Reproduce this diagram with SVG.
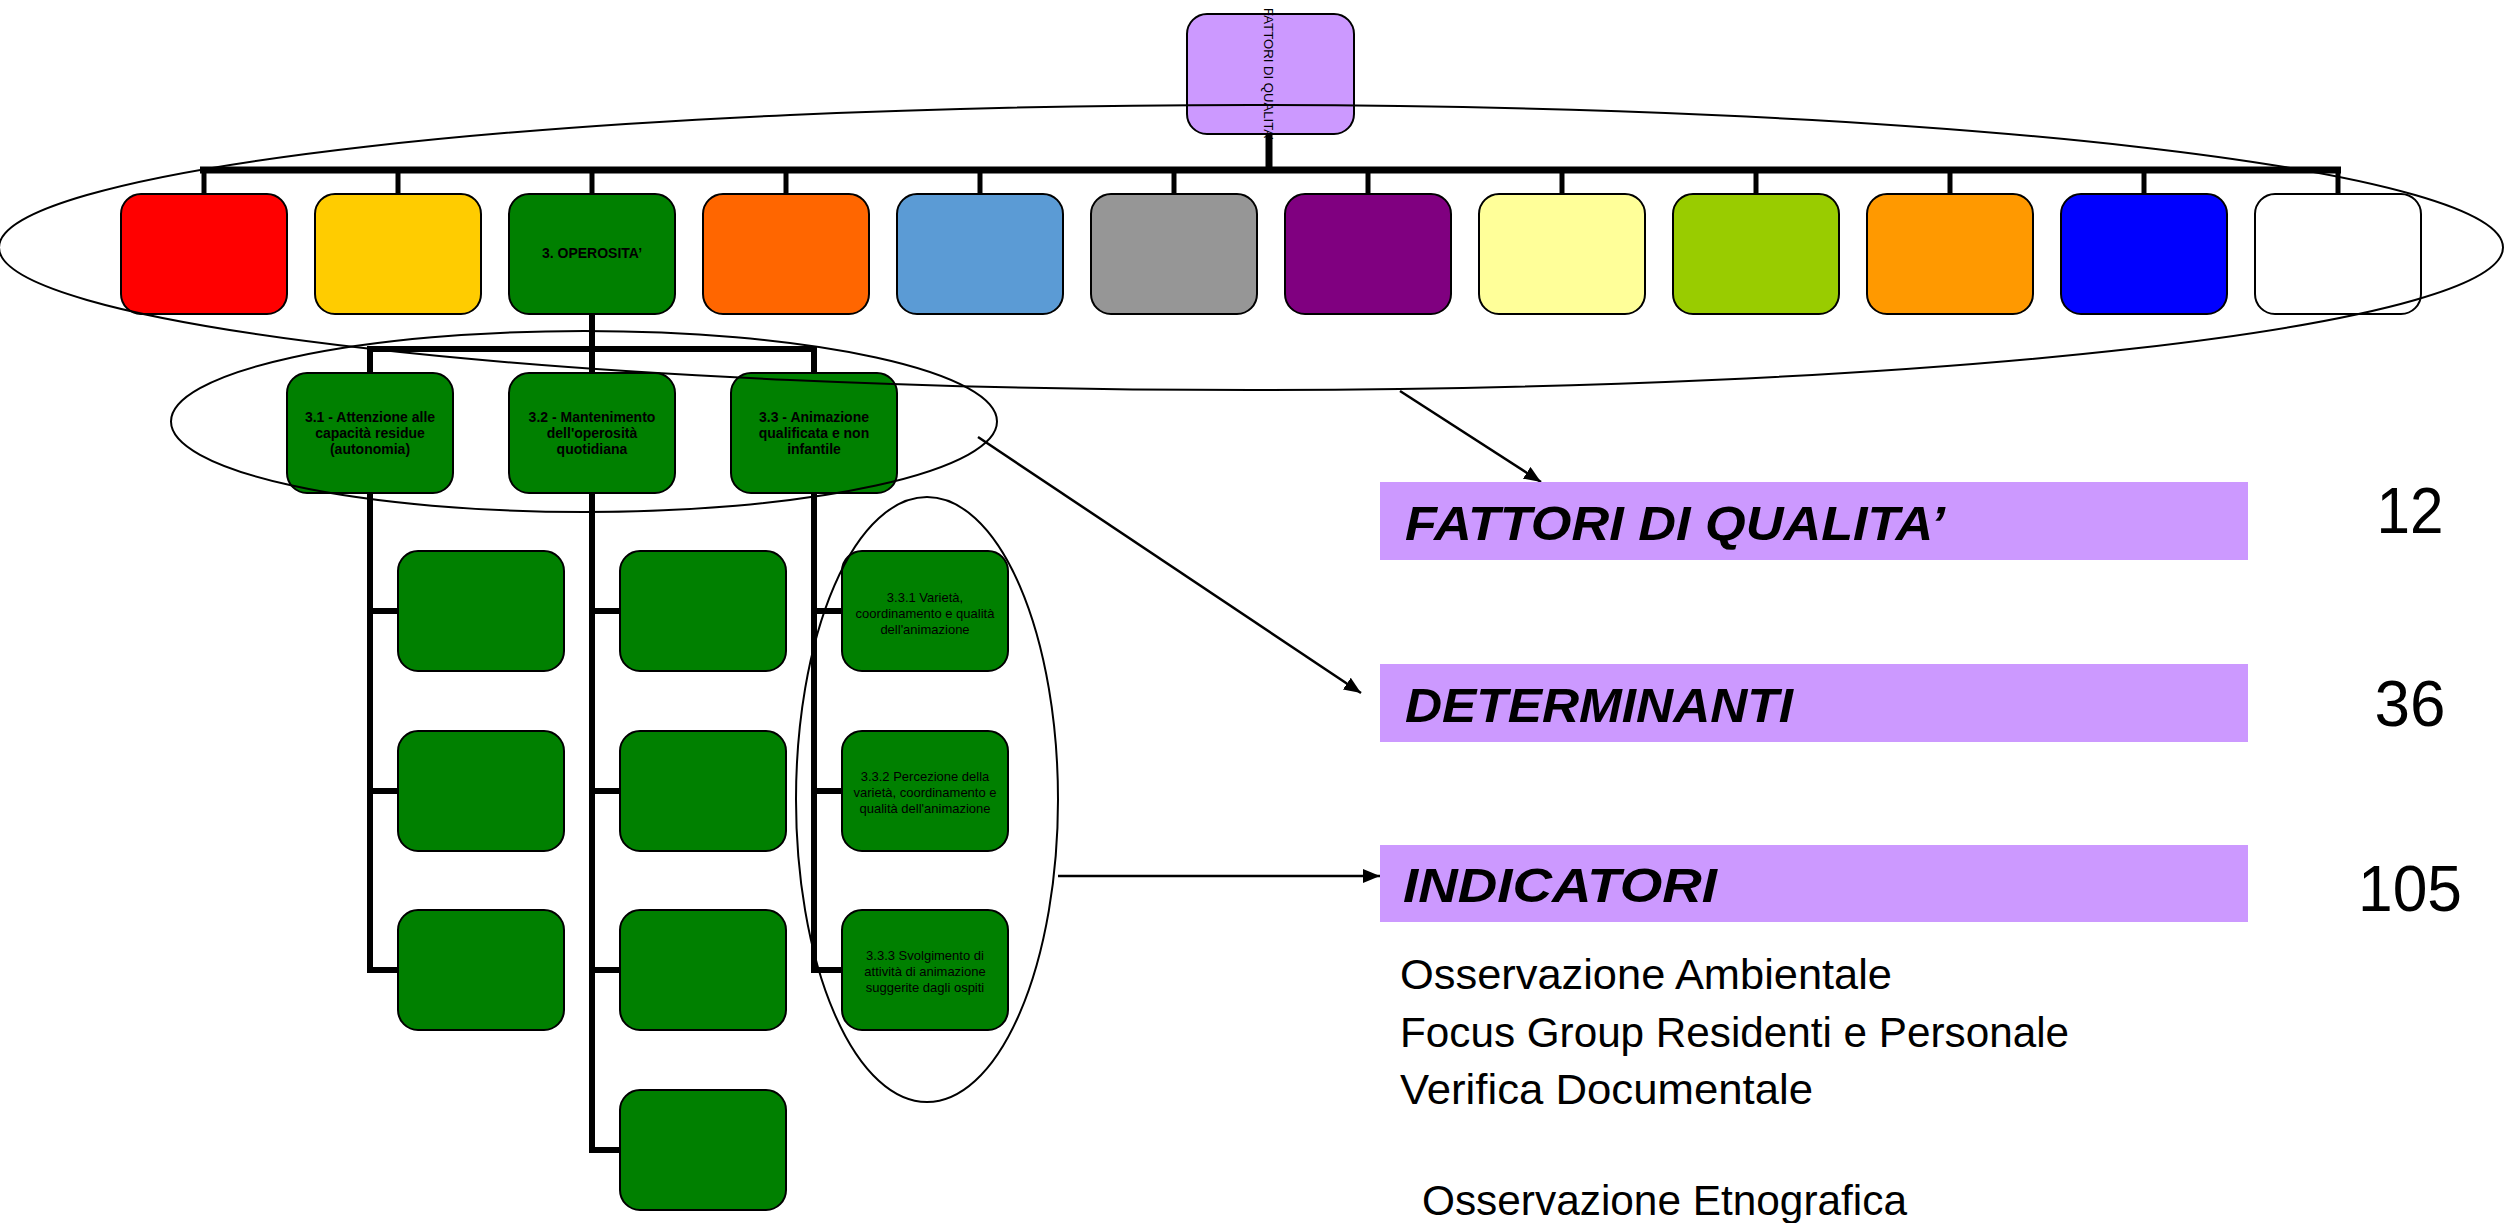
<svg xmlns="http://www.w3.org/2000/svg" width="2506" height="1223" viewBox="0 0 2506 1223">
  <defs>
    <style>
      .box { stroke: #000; stroke-width: 2; }
      .tree { fill: none; stroke: #000; stroke-linejoin: miter; stroke-linecap: butt; }
      .ring { fill: none; stroke: #000; stroke-width: 2; }
      .arrow { fill: none; stroke: #000; stroke-width: 2.5; marker-end: url(#head); }
      .lbl-b { font-family: "Liberation Sans", Arial, sans-serif; font-weight: bold; font-size: 14px; text-anchor: middle; fill: #000; }
      .lbl-r { font-family: "Liberation Sans", Arial, sans-serif; font-size: 13px; text-anchor: middle; fill: #000; }
      .bar { fill: #CC99FF; }
      .bar-t { font-family: "Liberation Sans", Arial, sans-serif; font-weight: bold; font-style: italic; font-size: 48px; fill: #000; }
      .num { font-family: "Liberation Sans", Arial, sans-serif; font-size: 64px; text-anchor: middle; fill: #000; }
      .note { font-family: "Liberation Sans", Arial, sans-serif; font-size: 42px; fill: #000; }
    </style>
    <marker id="head" markerUnits="userSpaceOnUse" markerWidth="18" markerHeight="14" refX="17" refY="7" orient="auto">
      <path d="M0,0 L17,7 L0,14 Z" fill="#000"/>
    </marker>
  </defs>

  <!-- tree connectors -->
  <g id="connectors">
    <!-- root to top bus -->
    <line class="tree" x1="1269" y1="134" x2="1269" y2="170" stroke-width="7"/>
    <line class="tree" x1="200" y1="170" x2="2341" y2="170" stroke-width="7"/>
    <g stroke-width="5" class="tree">
      <line x1="204" y1="170" x2="204" y2="194"/>
      <line x1="398" y1="170" x2="398" y2="194"/>
      <line x1="592" y1="170" x2="592" y2="194"/>
      <line x1="786" y1="170" x2="786" y2="194"/>
      <line x1="980" y1="170" x2="980" y2="194"/>
      <line x1="1174" y1="170" x2="1174" y2="194"/>
      <line x1="1368" y1="170" x2="1368" y2="194"/>
      <line x1="1562" y1="170" x2="1562" y2="194"/>
      <line x1="1756" y1="170" x2="1756" y2="194"/>
      <line x1="1950" y1="170" x2="1950" y2="194"/>
      <line x1="2144" y1="170" x2="2144" y2="194"/>
      <line x1="2338" y1="170" x2="2338" y2="194"/>
    </g>
    <!-- 3. OPEROSITA' to its determinants -->
    <line class="tree" x1="592" y1="313" x2="592" y2="349" stroke-width="6"/>
    <line class="tree" x1="367" y1="349" x2="817" y2="349" stroke-width="6"/>
    <g stroke-width="6" class="tree">
      <line x1="370" y1="349" x2="370" y2="373"/>
      <line x1="592" y1="349" x2="592" y2="373"/>
      <line x1="814" y1="349" x2="814" y2="373"/>
    </g>
    <!-- determinants to indicators -->
    <g stroke-width="6" class="tree">
      <path d="M370 493 V970 H398"/>
      <path d="M370 611 H398 M370 791 H398"/>
      <path d="M592 493 V1150 H620"/>
      <path d="M592 611 H620 M592 791 H620 M592 970 H620"/>
      <path d="M814 493 V970 H842"/>
      <path d="M814 611 H842 M814 791 H842"/>
    </g>
  </g>

  <!-- root -->
  <g id="root">
    <rect class="box" x="1187" y="14" width="167" height="120" rx="20" fill="#CC99FF"/>
    <text transform="translate(1264,8) rotate(90)" font-family="Liberation Sans, Arial, sans-serif" font-size="13" fill="#000" textLength="132" lengthAdjust="spacingAndGlyphs">FATTORI DI QUALITA’</text>
  </g>

  <!-- quality factors -->
  <g id="factor-1"><rect class="box" x="121" y="194" width="166" height="120" rx="20" fill="#FF0000"/></g>
  <g id="factor-2"><rect class="box" x="315" y="194" width="166" height="120" rx="20" fill="#FFCC00"/></g>
  <g id="factor-3">
    <rect class="box" x="509" y="194" width="166" height="120" rx="20" fill="#008000"/>
    <text class="lbl-b" x="592" y="258" font-size="13.5">3. OPEROSITA’</text>
  </g>
  <g id="factor-4"><rect class="box" x="703" y="194" width="166" height="120" rx="20" fill="#FF6600"/></g>
  <g id="factor-5"><rect class="box" x="897" y="194" width="166" height="120" rx="20" fill="#5B9BD5"/></g>
  <g id="factor-6"><rect class="box" x="1091" y="194" width="166" height="120" rx="20" fill="#969696"/></g>
  <g id="factor-7"><rect class="box" x="1285" y="194" width="166" height="120" rx="20" fill="#800080"/></g>
  <g id="factor-8"><rect class="box" x="1479" y="194" width="166" height="120" rx="20" fill="#FFFF99"/></g>
  <g id="factor-9"><rect class="box" x="1673" y="194" width="166" height="120" rx="20" fill="#99CC00"/></g>
  <g id="factor-10"><rect class="box" x="1867" y="194" width="166" height="120" rx="20" fill="#FF9900"/></g>
  <g id="factor-11"><rect class="box" x="2061" y="194" width="166" height="120" rx="20" fill="#0000FF"/></g>
  <g id="factor-12"><rect class="box" x="2255" y="194" width="166" height="120" rx="20" fill="#FFFFFF"/></g>

  <!-- determinants -->
  <g id="det-3-1">
    <rect class="box" x="287" y="373" width="166" height="120" rx="20" fill="#008000"/>
    <text class="lbl-b" x="370" y="422">3.1 - Attenzione alle</text>
    <text class="lbl-b" x="370" y="438">capacità residue</text>
    <text class="lbl-b" x="370" y="454">(autonomia)</text>
  </g>
  <g id="det-3-2">
    <rect class="box" x="509" y="373" width="166" height="120" rx="20" fill="#008000"/>
    <text class="lbl-b" x="592" y="422">3.2 - Mantenimento</text>
    <text class="lbl-b" x="592" y="438">dell'operosità</text>
    <text class="lbl-b" x="592" y="454">quotidiana</text>
  </g>
  <g id="det-3-3">
    <rect class="box" x="731" y="373" width="166" height="120" rx="20" fill="#008000"/>
    <text class="lbl-b" x="814" y="422">3.3 - Animazione</text>
    <text class="lbl-b" x="814" y="438">qualificata e non</text>
    <text class="lbl-b" x="814" y="454">infantile</text>
  </g>

  <!-- indicators -->
  <g id="ind-3-1-a"><rect class="box" x="398" y="551" width="166" height="120" rx="20" fill="#008000"/></g>
  <g id="ind-3-1-b"><rect class="box" x="398" y="731" width="166" height="120" rx="20" fill="#008000"/></g>
  <g id="ind-3-1-c"><rect class="box" x="398" y="910" width="166" height="120" rx="20" fill="#008000"/></g>
  <g id="ind-3-2-a"><rect class="box" x="620" y="551" width="166" height="120" rx="20" fill="#008000"/></g>
  <g id="ind-3-2-b"><rect class="box" x="620" y="731" width="166" height="120" rx="20" fill="#008000"/></g>
  <g id="ind-3-2-c"><rect class="box" x="620" y="910" width="166" height="120" rx="20" fill="#008000"/></g>
  <g id="ind-3-2-d"><rect class="box" x="620" y="1090" width="166" height="120" rx="20" fill="#008000"/></g>
  <g id="ind-3-3-1">
    <rect class="box" x="842" y="551" width="166" height="120" rx="20" fill="#008000"/>
    <text class="lbl-r" x="925" y="602">3.3.1 Varietà,</text>
    <text class="lbl-r" x="925" y="618">coordinamento e qualità</text>
    <text class="lbl-r" x="925" y="634">dell'animazione</text>
  </g>
  <g id="ind-3-3-2">
    <rect class="box" x="842" y="731" width="166" height="120" rx="20" fill="#008000"/>
    <text class="lbl-r" x="925" y="781">3.3.2 Percezione della</text>
    <text class="lbl-r" x="925" y="797">varietà, coordinamento e</text>
    <text class="lbl-r" x="925" y="813">qualità dell'animazione</text>
  </g>
  <g id="ind-3-3-3">
    <rect class="box" x="842" y="910" width="166" height="120" rx="20" fill="#008000"/>
    <text class="lbl-r" x="925" y="960">3.3.3 Svolgimento di</text>
    <text class="lbl-r" x="925" y="976">attività di animazione</text>
    <text class="lbl-r" x="925" y="992">suggerite dagli ospiti</text>
  </g>

  <!-- level outlines -->
  <g id="outlines">
    <ellipse class="ring" cx="1251" cy="247.5" rx="1252" ry="142.5"/>
    <ellipse class="ring" cx="584" cy="421.5" rx="413" ry="90.5"/>
    <ellipse class="ring" cx="927" cy="799.5" rx="131" ry="302.5"/>
  </g>

  <!-- pointers to the legend -->
  <g id="arrows">
    <line class="arrow" x1="1400" y1="391" x2="1541" y2="482"/>
    <line class="arrow" x1="978" y1="437" x2="1361" y2="693"/>
    <line class="arrow" x1="1058" y1="876" x2="1380" y2="876"/>
  </g>

  <!-- legend -->
  <g id="legend-factors">
    <rect class="bar" x="1380" y="482" width="868" height="78"/>
    <text class="bar-t" x="1405" y="540" textLength="540" lengthAdjust="spacingAndGlyphs">FATTORI DI QUALITA’</text>
    <text class="num" x="2410" y="533" textLength="67" lengthAdjust="spacingAndGlyphs">12</text>
  </g>
  <g id="legend-determinants">
    <rect class="bar" x="1380" y="664" width="868" height="78"/>
    <text class="bar-t" x="1405" y="722" textLength="388" lengthAdjust="spacingAndGlyphs">DETERMINANTI</text>
    <text class="num" x="2410" y="726" textLength="71" lengthAdjust="spacingAndGlyphs">36</text>
  </g>
  <g id="legend-indicators">
    <rect class="bar" x="1380" y="845" width="868" height="77"/>
    <text class="bar-t" x="1403" y="902" textLength="314" lengthAdjust="spacingAndGlyphs">INDICATORI</text>
    <text class="num" x="2410" y="911" textLength="104" lengthAdjust="spacingAndGlyphs">105</text>
  </g>
  <g id="methods">
    <text class="note" x="1400" y="989" textLength="492" lengthAdjust="spacingAndGlyphs">Osservazione Ambientale</text>
    <text class="note" x="1400" y="1047" textLength="669" lengthAdjust="spacingAndGlyphs">Focus Group Residenti e Personale</text>
    <text class="note" x="1400" y="1104" textLength="413" lengthAdjust="spacingAndGlyphs">Verifica Documentale</text>
    <text class="note" x="1422" y="1215" textLength="485" lengthAdjust="spacingAndGlyphs">Osservazione Etnografica</text>
  </g>
</svg>
